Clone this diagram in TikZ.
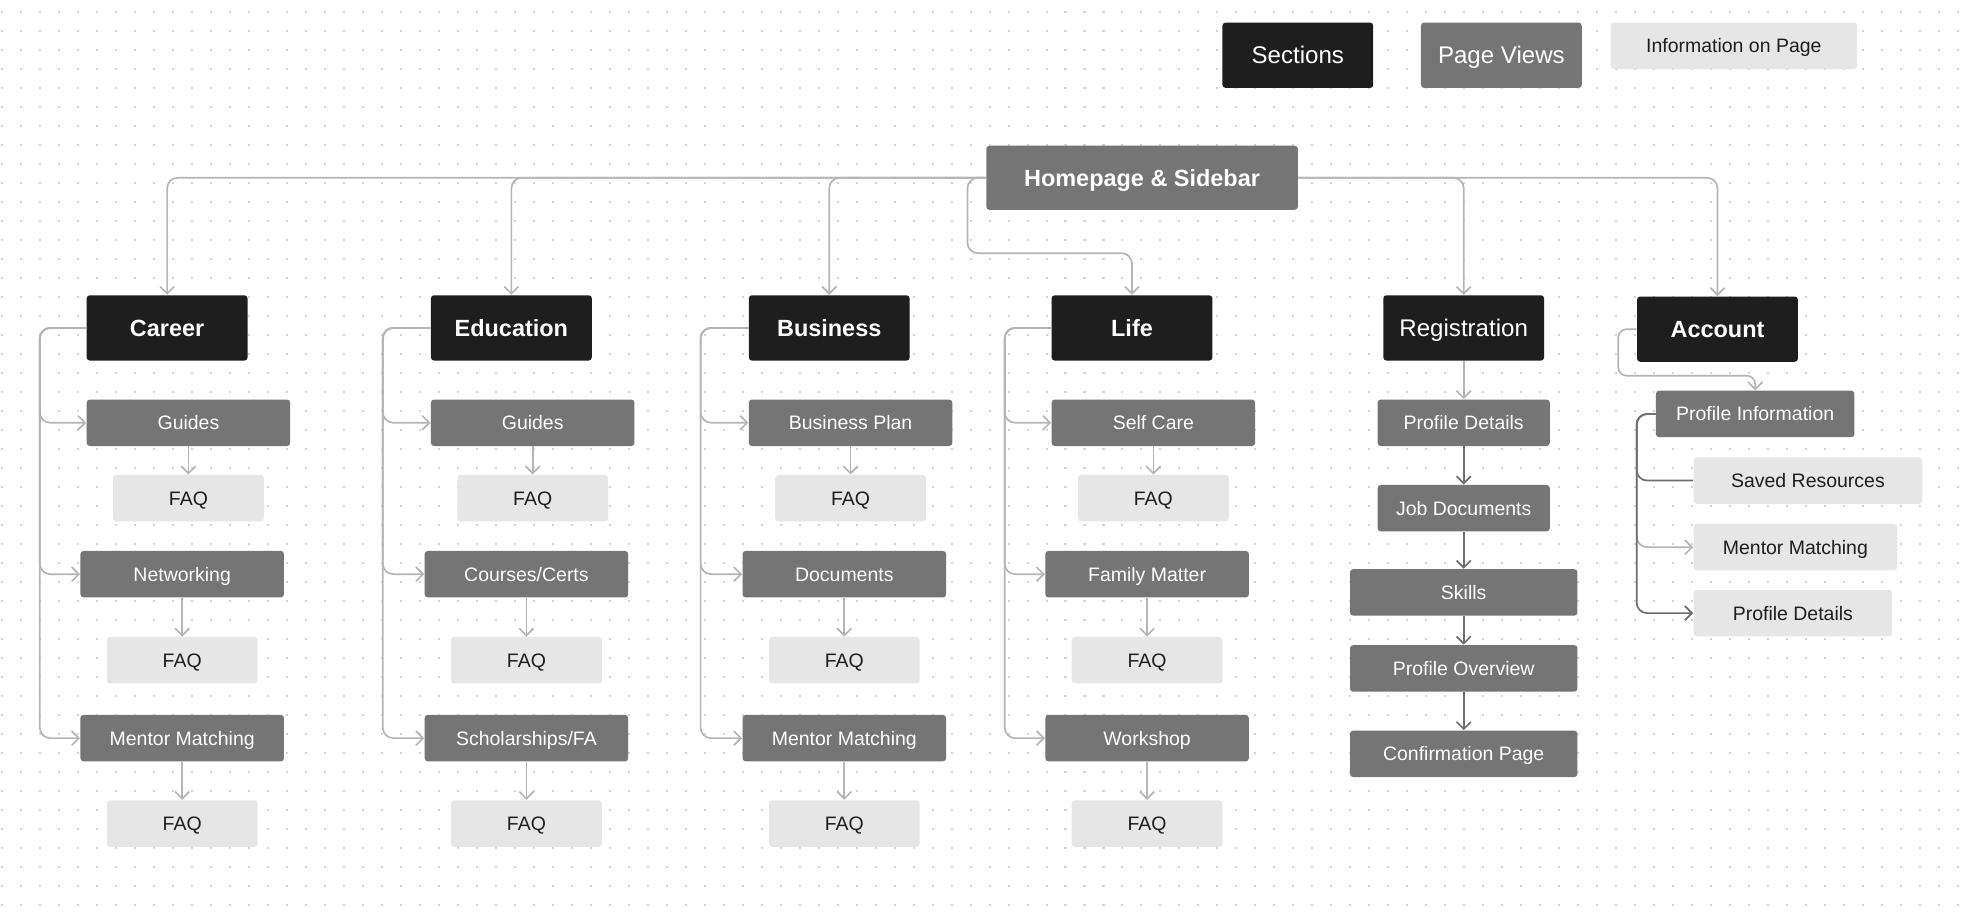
\documentclass[tikz,border=0pt]{standalone}
\usepackage{fontspec}
\setmainfont{Liberation Sans}
\usepackage{tikz}
\usetikzlibrary{arrows.meta}

\definecolor{secblack}{HTML}{1E1E1E}
\definecolor{pagegray}{HTML}{757575}
\definecolor{infogray}{HTML}{E6E6E6}
\definecolor{textdark}{HTML}{1E1E1E}
\definecolor{linelight}{HTML}{B5B5B5}
\definecolor{linedark}{HTML}{6E6E6E}
\definecolor{dotgray}{HTML}{D4D4D4}

\begin{document}
\begin{tikzpicture}[
    x=0.6pt, y=-0.6pt,
    >={Straight Barb[length=3.4pt,width=6.8pt]},
    box/.style={rectangle, rounded corners=1.5pt, inner sep=0pt, minimum height=22.2pt, text depth=0pt},
    section/.style={box, fill=secblack, text=white, minimum width=76.8pt, minimum height=31.2pt, text height=8pt, font=\fontsize{11.2}{13}\selectfont\bfseries},
    page/.style={box, fill=pagegray, text=white, minimum width=97.2pt, text height=6.66pt, font=\fontsize{9.3}{11}\selectfont},
    info/.style={box, fill=infogray, text=textdark, minimum width=72pt, text height=6.66pt, font=\fontsize{9.3}{11}\selectfont},
    bigtext/.style={text height=8.2pt, font=\fontsize{11.5}{13.5}\selectfont},
    conn/.style={draw=linelight, line width=0.8pt, rounded corners=5pt, ->},
    darkconn/.style={conn, draw=linedark},
    dots/.style={draw=dotgray, line width=0.96pt, dash pattern=on 0.96pt off 8.112pt}
]
% Canvas
\fill[white] (0,0) rectangle (1568,734);
\useasboundingbox (0,0) rectangle (1568,734);
\foreach \r in {0,...,47}
    \draw[dots] (0.55,9.8+15.12*\r) -- (1568,9.8+15.12*\r);

% Legend
\node[section, bigtext, minimum width=72pt] (legsec) at (1033,44) {Sections};
\node[section, bigtext, fill=pagegray] (legpage) at (1195,44) {Page Views};
\node[info, minimum width=117.6pt] (leginfo) at (1380,36.5) {Information on Page};

% Homepage
\node[section, fill=pagegray, minimum width=148.8pt, minimum height=30.6pt] (home) at (909,141.5) {Homepage \& Sidebar};

% Sections
\node[section] (car) at (133,261) {Career};
\node[section] (edu) at (407,261) {Education};
\node[section] (bus) at (660,261) {Business};
\node[section] (life) at (901,261) {Life};
\node[section, bigtext] (reg) at (1165,261) {Registration};
\node[section] (acc) at (1367,262) {Account};

% Career
\node[page] (carG) at (150,336.5) {Guides};
\node[info] (carGf) at (150,396.5) {FAQ};
\node[page] (carN) at (145,457) {Networking};
\node[info] (carNf) at (145,525.5) {FAQ};
\node[page] (carM) at (145,587.5) {Mentor Matching};
\node[info] (carMf) at (145,655.5) {FAQ};

% Education
\node[page] (eduG) at (424,336.5) {Guides};
\node[info] (eduGf) at (424,396.5) {FAQ};
\node[page] (eduC) at (419,457) {Courses/Certs};
\node[info] (eduCf) at (419,525.5) {FAQ};
\node[page] (eduS) at (419,587.5) {Scholarships/FA};
\node[info] (eduSf) at (419,655.5) {FAQ};

% Business
\node[page] (busP) at (677,336.5) {Business Plan};
\node[info] (busPf) at (677,396.5) {FAQ};
\node[page] (busD) at (672,457) {Documents};
\node[info] (busDf) at (672,525.5) {FAQ};
\node[page] (busM) at (672,587.5) {Mentor Matching};
\node[info] (busMf) at (672,655.5) {FAQ};

% Life
\node[page] (lifS) at (918,336.5) {Self Care};
\node[info] (lifSf) at (918,396.5) {FAQ};
\node[page] (lifF) at (913,457) {Family Matter};
\node[info] (lifFf) at (913,525.5) {FAQ};
\node[page] (lifW) at (913,587.5) {Workshop};
\node[info] (lifWf) at (913,655.5) {FAQ};

% Registration
\node[page, minimum width=82.2pt] (regP) at (1165,336.5) {Profile Details};
\node[page, minimum width=82.2pt] (regJ) at (1165,404.5) {Job Documents};
\node[page, minimum width=108.6pt] (regS) at (1165,471.5) {Skills};
\node[page, minimum width=108.6pt] (regO) at (1165,532) {Profile Overview};
\node[page, minimum width=108.6pt] (regC) at (1165,600) {Confirmation Page};

% Account
\node[page, minimum width=94.8pt] (accP) at (1397,329.5) {Profile Information};
\node[info, minimum width=109.2pt] (accS) at (1439,382.5) {Saved Resources};
\node[info, minimum width=97.2pt] (accM) at (1429,435.5) {Mentor Matching};
\node[info, minimum width=94.8pt] (accD) at (1427,488) {Profile Details};

% Bends
\coordinate (lifebend) at (770,201.5);
\coordinate (accbend) at (1288,299);

% Homepage to sections
\draw[conn] (home.west) -| (car.north);
\draw[conn] (home.west) -| (edu.north);
\draw[conn] (home.west) -| (bus.north);
\draw[conn] (home.west) -| (lifebend) -| (life.north);
\draw[conn] (home.east) -| (reg.north);
\draw[conn] (home.east) -| (acc.north);

% Section trunks
\draw[conn] (car.west) -- ++(-37,0) |- (carG.west);
\draw[conn] (car.west) -- ++(-37,0) |- (carN.west);
\draw[conn] (car.west) -- ++(-37,0) |- (carM.west);
\draw[conn] (edu.west) -- ++(-38,0) |- (eduG.west);
\draw[conn] (edu.west) -- ++(-38,0) |- (eduC.west);
\draw[conn] (edu.west) -- ++(-38,0) |- (eduS.west);
\draw[conn] (bus.west) -- ++(-38,0) |- (busP.west);
\draw[conn] (bus.west) -- ++(-38,0) |- (busD.west);
\draw[conn] (bus.west) -- ++(-38,0) |- (busM.west);
\draw[conn] (life.west) -- ++(-37,0) |- (lifS.west);
\draw[conn] (life.west) -- ++(-37,0) |- (lifF.west);
\draw[conn] (life.west) -- ++(-37,0) |- (lifW.west);

% Pages to FAQ
\draw[conn] (carG) -- (carGf);
\draw[conn] (carN) -- (carNf);
\draw[conn] (carM) -- (carMf);
\draw[conn] (eduG) -- (eduGf);
\draw[conn] (eduC) -- (eduCf);
\draw[conn] (eduS) -- (eduSf);
\draw[conn] (busP) -- (busPf);
\draw[conn] (busD) -- (busDf);
\draw[conn] (busM) -- (busMf);
\draw[conn] (lifS) -- (lifSf);
\draw[conn] (lifF) -- (lifFf);
\draw[conn] (lifW) -- (lifWf);

% Registration flow
\draw[conn] (reg) -- (regP);
\draw[darkconn] (regP) -- (regJ);
\draw[darkconn] (regJ) -- (regS);
\draw[darkconn] (regS) -- (regO);
\draw[darkconn] (regO) -- (regC);

% Account
\draw[conn, rounded corners=4pt] (acc.west) -| (accbend) -| (accP.north);
\draw[conn] (accP.west) -- ++(-15,0) |- (accM.west);
\draw[darkconn, -] (accP.west) -- ++(-15,0) |- (accS.west);
\draw[darkconn] (accP.west) -- ++(-15,0) |- (accD.west);
\end{tikzpicture}
\end{document}
